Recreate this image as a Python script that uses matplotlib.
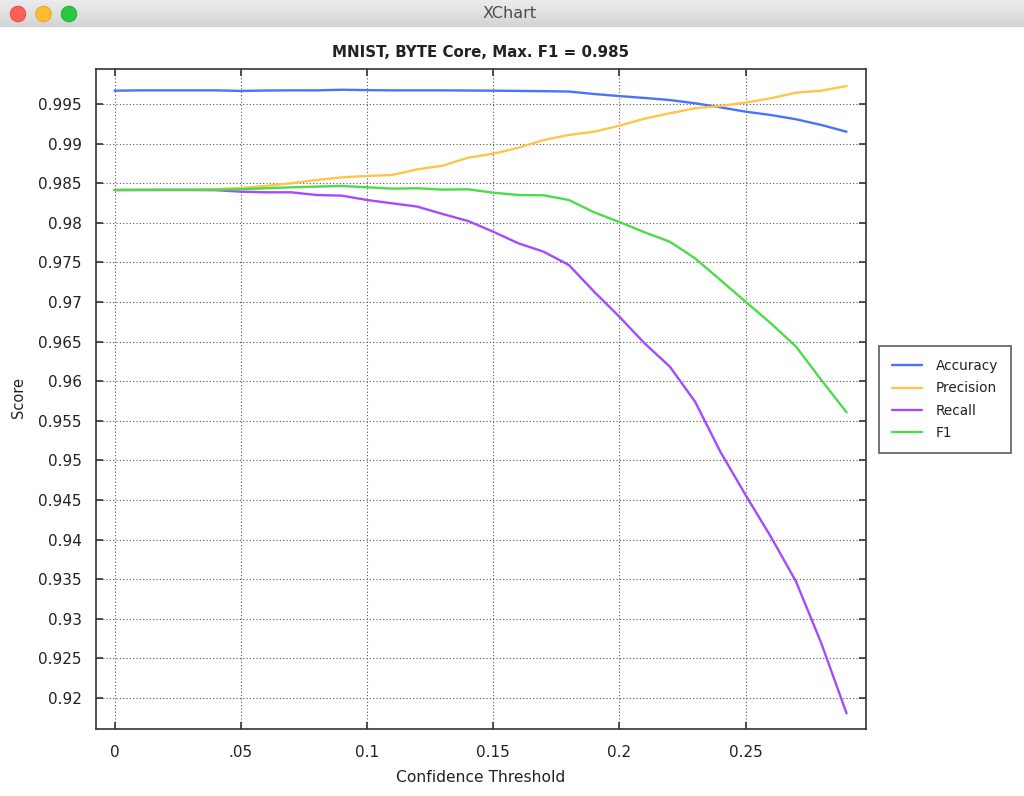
import numpy as np
import matplotlib
matplotlib.use("Agg")
import matplotlib.pyplot as plt
from matplotlib.patches import Circle

# ---------------- data ----------------
thresholds = [0.00, 0.01, 0.02, 0.03, 0.04, 0.05, 0.06, 0.07, 0.08, 0.09,
              0.10, 0.11, 0.12, 0.13, 0.14, 0.15, 0.16, 0.17, 0.18, 0.19,
              0.20, 0.21, 0.22, 0.23, 0.24, 0.25, 0.26, 0.27, 0.28, 0.29]
accuracy = [0.99668, 0.99672, 0.99672, 0.99672, 0.99672, 0.99665, 0.99670, 0.99672, 0.99672, 0.99680,
            0.99675, 0.99672, 0.99672, 0.99672, 0.99670, 0.99668, 0.99665, 0.99662, 0.99657, 0.99626,
            0.99600, 0.99576, 0.99550, 0.99509, 0.99458, 0.99403, 0.99361, 0.99307, 0.99235, 0.99150]
precision = [0.98414, 0.98416, 0.98418, 0.98418, 0.98423, 0.98439, 0.98465, 0.98499, 0.98540, 0.98574,
             0.98591, 0.98604, 0.98675, 0.98721, 0.98822, 0.98872, 0.98948, 0.99045, 0.99109, 0.99150,
             0.99226, 0.99315, 0.99383, 0.99446, 0.99475, 0.99517, 0.99572, 0.99643, 0.99668, 0.99727]
recall = [0.98414, 0.98414, 0.98414, 0.98414, 0.98412, 0.98393, 0.98385, 0.98385, 0.98351, 0.98343,
          0.98288, 0.98246, 0.98204, 0.98111, 0.98023, 0.97888, 0.97741, 0.97635, 0.97467, 0.97130,
          0.96814, 0.96478, 0.96183, 0.95741, 0.95110, 0.94563, 0.94037, 0.93469, 0.92691, 0.91807]
f1 = [0.98414, 0.98415, 0.98416, 0.98416, 0.98417, 0.98423, 0.98436, 0.98448, 0.98457, 0.98465,
      0.98448, 0.98431, 0.98436, 0.98419, 0.98423, 0.98380, 0.98351, 0.98347, 0.98288, 0.98132,
      0.98010, 0.97880, 0.97761, 0.97551, 0.97278, 0.97004, 0.96731, 0.96436, 0.96015, 0.95607]

series_names = ["Accuracy", "Precision", "Recall", "F1"]
series_colors = ["#4B72FF", "#FFC44B", "#A54BFF", "#4BDC4B"]

x_ticks = [0.0, 0.05, 0.10, 0.15, 0.20, 0.25]
x_tick_labels = ["0", ".05", "0.1", "0.15", "0.2", "0.25"]
y_ticks = [0.92, 0.925, 0.93, 0.935, 0.94, 0.945, 0.95, 0.955, 0.96, 0.965,
           0.97, 0.975, 0.98, 0.985, 0.99, 0.995]
y_tick_labels = ["0.92", "0.925", "0.93", "0.935", "0.94", "0.945", "0.95", "0.955",
                 "0.96", "0.965", "0.97", "0.975", "0.98", "0.985", "0.99", "0.995"]

title = "MNIST, BYTE Core, Max. F1 = 0.985"
x_label = "Confidence Threshold"
y_label = "Score"
window_title = "XChart"

# ---------------- figure ----------------
W, H = 1024, 796
plt.rcParams['font.family'] = ['DejaVu Sans']
plt.rcParams['lines.scale_dashes'] = False
fig = plt.figure(figsize=(W / 100, H / 100), dpi=100)
fig.patch.set_facecolor("white")

# window title bar
TB = 27
tb = fig.add_axes([0, 1 - TB / H, 1, TB / H])
grad = np.linspace(0.925, 0.83, 50).reshape(-1, 1)
tb.imshow(np.dstack([grad, grad, grad]), aspect='auto', extent=[0, W, TB, 0])
tb.set_xlim(0, W)
tb.set_ylim(TB, 0)
tb.axis('off')
tb.axhline(TB - 0.5, color="#BDBDBD", lw=1)
for cx, fc, ec in [(18, "#FF5F57", "#E0443E"), (43.5, "#FEBC2E", "#DEA123"), (69, "#28C840", "#1AAB29")]:
    tb.add_patch(Circle((cx, 14), 7.8, facecolor=fc, edgecolor=ec, lw=0.6))
tb.text(510, 14, window_title, ha='center', va='center', fontsize=11.5, color="#4D4D4D")

# plot area
left, right, top, bottom = 95.7, 866, 69.3, 729.3
ax = fig.add_axes([left / W, 1 - bottom / H, (right - left) / W, (bottom - top) / H])
ax.set_facecolor("white")

for vals, name, col in zip([accuracy, precision, recall, f1], series_names, series_colors):
    ax.plot(thresholds, vals, color=col, lw=1.7, label=name, solid_capstyle='round')

ax.set_xlim(-0.00745, 0.2977)
ax.set_ylim(0.91605, 0.99938)
ax.set_xticks(x_ticks)
ax.set_xticklabels(x_tick_labels)
ax.set_yticks(y_ticks)
ax.set_yticklabels(y_tick_labels)

ax.grid(True, color="#555555", lw=0.8, linestyle=(0, (0.8, 1.6)))
ax.set_axisbelow(True)
ax.tick_params(axis='both', direction='in', length=5, width=1.2, color="#333333",
               top=True, right=True, labelsize=11, labelcolor="#222222")
ax.tick_params(axis='x', pad=11)
ax.tick_params(axis='y', pad=10)
for s in ax.spines.values():
    s.set_color("#333333")
    s.set_linewidth(1.2)

ax.set_title(title, fontsize=10.8, fontweight='bold', color="#222222", pad=9)
ax.set_xlabel(x_label, fontsize=11.2, color="#222222", va='center')
ax.xaxis.set_label_coords(0.5, (bottom - 777.5) / (bottom - top))
ax.set_ylabel(y_label, fontsize=10.5, color="#222222", va='center')
ax.yaxis.set_label_coords((18.5 - left) / (right - left), (bottom - 398) / (bottom - top))

leg = ax.legend(loc='upper left', bbox_to_anchor=(879 / W, 1 - 346 / H),
                bbox_transform=fig.transFigure, borderaxespad=0,
                fancybox=False, frameon=True, edgecolor="#333333", fontsize=9.8,
                handlelength=2.2, handletextpad=1.0, labelspacing=0.62,
                borderpad=0.95)
leg.get_frame().set_linewidth(1.2)
for t in leg.get_texts():
    t.set_color("#222222")

fig.savefig("out.png", dpi=100, facecolor="white")
